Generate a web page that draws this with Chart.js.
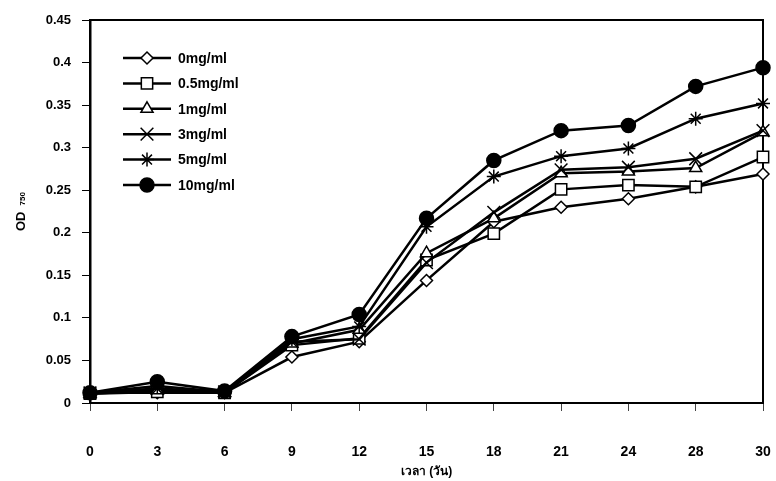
<!DOCTYPE html>
<html>
<head>
<meta charset="utf-8">
<script src="https://cdn.jsdelivr.net/npm/chart.js@4/dist/chart.umd.min.js"></script>
<style>
  body { margin: 0; background: #fff; }
</style>
</head>
<body>
<canvas id="myChart" width="776" height="481"></canvas>
<script>
// days (category axis)
var days = ["0", "3", "6", "9", "12", "15", "18", "21", "24", "28", "30"];

// OD750 per concentration
var od0mg   = [0.012, 0.012, 0.012, 0.054, 0.072, 0.144, 0.213, 0.230, 0.240, 0.254, 0.269];
var od05mg  = [0.011, 0.013, 0.012, 0.068, 0.076, 0.168, 0.199, 0.251, 0.256, 0.254, 0.289];
var od1mg   = [0.011, 0.015, 0.012, 0.070, 0.086, 0.176, 0.217, 0.270, 0.272, 0.276, 0.318];
var od3mg   = [0.012, 0.017, 0.013, 0.072, 0.075, 0.165, 0.224, 0.274, 0.277, 0.287, 0.320];
var od5mg   = [0.012, 0.020, 0.013, 0.075, 0.090, 0.207, 0.266, 0.290, 0.299, 0.334, 0.352];
var od10mg  = [0.012, 0.025, 0.014, 0.078, 0.104, 0.217, 0.285, 0.320, 0.326, 0.372, 0.394];

var seriesNames = ["0mg/ml", "0.5mg/ml", "1mg/ml", "3mg/ml", "5mg/ml", "10mg/ml"];
var yTitle = "OD";
var yTitleSub = "750";
var xTitle = "เวลา (วัน)";

var FONT = "'Liberation Sans', Arial, 'Noto Sans', sans-serif";

function makeSet(label, data, style, radius, fill, order) {
    return {
        label: label,
        data: data,
        borderColor: "#000",
        borderWidth: 2.5,
        tension: 0,
        clip: false,
        pointStyle: style,
        pointRadius: radius,
        pointHoverRadius: radius,
        pointBorderColor: "#000",
        pointBorderWidth: 1.5,
        pointBackgroundColor: fill,
        order: order
    };
}

var frameAndLegend = {
    id: "frameAndLegend",
    beforeDatasetsDraw: function(chart) {
        var ctx = chart.ctx;
        var a = chart.chartArea;
        ctx.save();
        ctx.strokeStyle = "#000";
        ctx.lineWidth = 2;
        ctx.strokeRect(a.left, a.top, a.right - a.left, a.bottom - a.top);
        ctx.restore();
    },
    afterDraw: function(chart) {
        var ctx = chart.ctx;
        var a = chart.chartArea;
        ctx.save();
        // legend
        var x0 = a.left + 33, x1 = a.left + 81, y0 = 58, step = 25.4;
        chart.data.datasets.forEach(function(ds, i) {
            var y = y0 + i * step;
            ctx.strokeStyle = "#000";
            ctx.lineWidth = 2.5;
            ctx.beginPath();
            ctx.moveTo(x0, y);
            ctx.lineTo(x1, y);
            ctx.stroke();
            ctx.fillStyle = ds.pointBackgroundColor;
            ctx.strokeStyle = "#000";
            ctx.lineWidth = ds.pointBorderWidth;
            ctx.beginPath();
            Chart.helpers.drawPoint(ctx, {
                pointStyle: ds.pointStyle,
                radius: ds.pointRadius,
                borderWidth: ds.pointBorderWidth,
                rotation: 0
            }, (x0 + x1) / 2, y);
            ctx.fillStyle = "#000";
            ctx.font = "bold 14px " + FONT;
            ctx.textAlign = "left";
            ctx.textBaseline = "middle";
            ctx.fillText(ds.label, x1 + 7, y + 1);
        });
        // y title with subscript
        ctx.translate(21, 231);
        ctx.rotate(-Math.PI / 2);
        ctx.fillStyle = "#000";
        ctx.font = "bold 13px " + FONT;
        ctx.textAlign = "left";
        ctx.textBaseline = "middle";
        ctx.fillText(yTitle, 0, 0);
        var w = ctx.measureText(yTitle).width;
        ctx.font = "bold 8px " + FONT;
        ctx.fillText(yTitleSub, w + 6, 2);
        ctx.restore();
    }
};

window.onload = function() {
    var ctx = document.getElementById("myChart").getContext("2d");
    new Chart(ctx, {
        type: "line",
        data: {
            labels: days,
            datasets: [
                makeSet(seriesNames[0], od0mg, "rectRot", 6, "#fff", 5),
                makeSet(seriesNames[1], od05mg, "rect", 8, "#fff", 4),
                makeSet(seriesNames[2], od1mg, "triangle", 7, "#fff", 3),
                makeSet(seriesNames[3], od3mg, "crossRot", 9, "#fff", 2),
                makeSet(seriesNames[4], od5mg, "star", 7, "#fff", 1),
                makeSet(seriesNames[5], od10mg, "circle", 7, "#000", 0)
            ]
        },
        options: {
            responsive: false,
            animation: false,
            layout: { padding: { top: 20, right: 13, left: 0, bottom: 0 } },
            plugins: {
                legend: { display: false },
                tooltip: { enabled: false }
            },
            scales: {
                x: {
                    offset: false,
                    afterFit: function(scale) {
                        scale.height = 78;
                        // tick padding is only meant to push labels down
                        scale.paddingLeft = 4;
                        scale.paddingRight = 8;
                    },
                    grid: {
                        drawOnChartArea: false,
                        tickLength: 8,
                        color: "#444",
                        lineWidth: 1
                    },
                    border: { color: "#000", width: 2 },
                    ticks: {
                        color: "#000",
                        padding: 33,
                        maxRotation: 0,
                        font: { family: FONT, size: 14, weight: "bold" }
                    },
                    title: {
                        display: true,
                        text: xTitle,
                        color: "#000",
                        padding: { top: 0, bottom: 2 },
                        font: { family: FONT, size: 12, weight: "bold" }
                    }
                },
                y: {
                    min: 0,
                    max: 0.45,
                    afterFit: function(scale) { scale.width = 90; },
                    grid: {
                        drawOnChartArea: false,
                        tickLength: 8,
                        color: "#000",
                        lineWidth: 1
                    },
                    border: { color: "#000", width: 2.5 },
                    ticks: {
                        stepSize: 0.05,
                        color: "#000",
                        padding: 11,
                        font: { family: FONT, size: 13, weight: "bold" },
                        callback: function(v) { return String(Math.round(v * 100) / 100); }
                    }
                }
            }
        },
        plugins: [frameAndLegend]
    });
};
</script>
</body>
</html>
